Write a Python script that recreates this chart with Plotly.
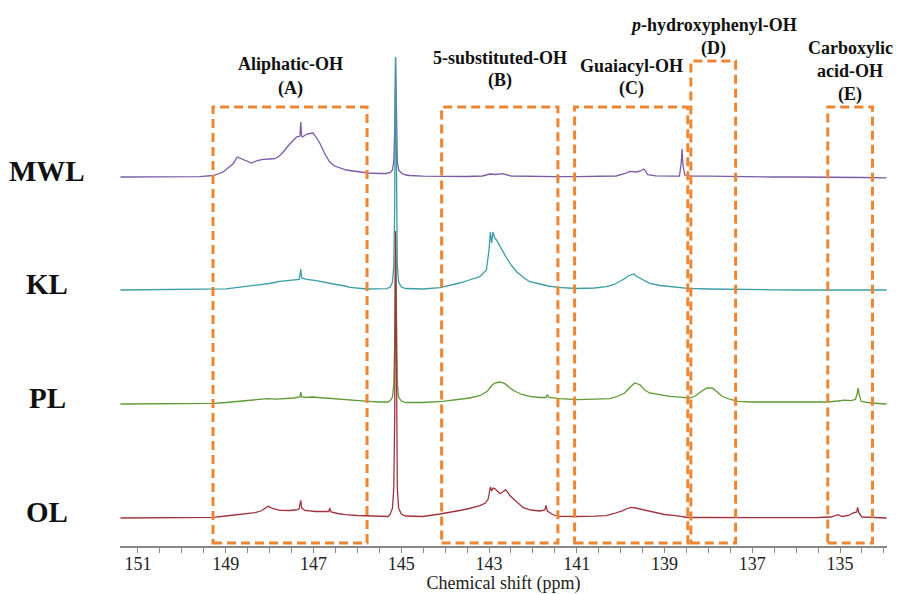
import plotly.graph_objects as go

# ---------------- data ----------------
samples = ["MWL", "KL", "PL", "OL"]

mwl_ppm = [151.40, 150.8, 150.2, 149.6, 149.28, 149.06, 148.95, 148.83, 148.74, 148.64, 148.52, 148.41,
           148.28, 148.15, 148.0, 147.88, 147.78, 147.69, 147.58, 147.46, 147.39, 147.33, 147.31, 147.29,
           147.27, 147.25, 147.16, 147.08, 147.01, 146.93, 146.85, 146.74, 146.63, 146.52, 146.40, 146.25,
           146.10, 145.92, 145.75, 145.5, 145.35, 145.25, 145.2, 145.17, 145.15, 145.13, 145.11, 145.09,
           145.06, 145.0, 144.9, 144.8, 144.5, 144.0, 143.5, 143.15, 142.98, 142.85, 142.69, 142.5, 142.0,
           141.5, 141.0, 140.5, 140.1, 139.9, 139.79, 139.64, 139.55, 139.47, 139.42, 139.38, 139.2, 139.0,
           138.8, 138.66, 138.62, 138.60, 138.58, 138.54, 138.4, 138.0, 137.5, 137.0, 136.5, 136.0, 135.5,
           135.0, 134.5, 133.94]
mwl_int = [0, 0.3, 0, 0.3, 1.5, 5, 9, 13.3, 20, 18.3, 15.5, 14,
           16.5, 17.7, 18, 18.3, 21, 25, 31, 36.7, 40, 40.5, 41, 55,
           41, 40, 42.7, 43.5, 44, 39, 33.3, 23, 15, 11, 9, 7,
           6, 5, 4, 3.5, 3.5, 4.5, 7, 16, 45, 119, 45, 16,
           7, 4, 2, 1.5, 0.8, 0.5, 0.5, 1, 3, 2.5, 3.3, 1, 0.5,
           0.3, 0.3, 0.5, 1, 3.5, 5.7, 5, 6, 8, 5, 2.3, 1.2, 0.8,
           0.8, 1, 14, 28, 12, 2, 0.8, 0.8, 0.3, 0.2, 0, 0, 0,
           -0.3, -0.5, -0.8]

kl_ppm = [151.40, 150.8, 150.2, 149.6, 149.28, 149.0, 148.72, 148.5, 148.3, 148.0, 147.77, 147.6, 147.54,
          147.33, 147.31, 147.29, 147.27, 147.16, 146.93, 146.74, 146.55, 146.28, 146.17, 145.79, 145.5,
          145.33, 145.25, 145.2, 145.17, 145.15, 145.13, 145.11, 145.09, 145.06, 145.0, 144.9, 144.5,
          144.12, 143.9, 143.67, 143.45, 143.21, 143.06, 143.0, 142.97, 142.94, 142.91, 142.87, 142.83,
          142.78, 142.72, 142.6, 142.48, 142.37, 142.2, 142.07, 141.84, 141.65, 141.43, 141.2, 141.0,
          140.6, 140.33, 140.15, 140.02, 139.9, 139.83, 139.76, 139.7, 139.63, 139.56, 139.45, 139.34,
          139.1, 138.81, 138.47, 138.0, 137.5, 137.0, 136.5, 136.0, 135.5, 135.0, 134.5, 133.94]
kl_int = [0, 0.3, 0, 0.3, 0.5, 1.2, 2.7, 3.8, 5, 6.5, 8.7, 9.5, 10,
          10.5, 15, 21, 12, 10.7, 9.3, 8, 6, 4, 2.7, 1, 1,
          1.3, 3, 8, 25, 80, 233, 80, 25, 8, 3, 1.5, 1,
          2.3, 4.5, 7, 10, 13.3, 20, 40, 58, 47, 58, 52, 50,
          46, 41.7, 32, 24, 18.3, 12, 8.3, 6, 4, 2.7, 2, 1.5,
          2, 3.3, 5.5, 8.3, 11.5, 14, 15.5, 16, 13.5, 11.7, 9, 6.7,
          4.5, 3.3, 1.7, 1, 0.5, 0.3, 0.2, 0, 0, 0, 0, 0]

pl_ppm = [151.40, 150.5, 149.6, 149.28, 149.0, 148.68, 148.4, 148.05, 147.85, 147.65, 147.45, 147.31,
          147.29, 147.27, 147.15, 147.03, 146.85, 146.63, 146.4, 146.17, 145.95, 145.75, 145.5, 145.3,
          145.25, 145.2, 145.17, 145.15, 145.13, 145.11, 145.09, 145.06, 145.0, 144.9, 144.5, 144.06,
          143.75, 143.44, 143.2, 143.04, 142.95, 142.87, 142.75, 142.64, 142.52, 142.41, 142.25, 142.07,
          141.85, 141.7, 141.67, 141.63, 141.39, 141.2, 140.99, 140.6, 140.25, 140.05, 139.91, 139.78,
          139.68, 139.56, 139.45, 139.34, 139.1, 138.88, 138.65, 138.43, 138.3, 138.15, 138.03, 137.91,
          137.8, 137.69, 137.5, 137.32, 137.0, 136.83, 136.3, 135.8, 135.3, 135.05, 134.9, 134.75,
          134.65, 134.61, 134.59, 134.56, 134.52, 134.3, 133.94]
pl_int = [0, 0.3, 0.3, 0.7, 1.5, 2.7, 4, 5.3, 4.8, 5.3, 6, 7,
          12, 7, 6.5, 7, 6.3, 6, 5, 4.3, 3.3, 2.7, 2, 2,
          3.5, 7, 20, 60, 170, 60, 20, 7, 3, 1.5, 1.5, 2.7,
          4.3, 6, 8.5, 12.7, 18, 21, 22, 20.3, 16, 12.7, 9.5, 7.7,
          6.5, 6.5, 9.3, 6.5, 5.3, 4.7, 4.3, 4.8, 5.3, 8, 11, 17,
          21, 19.3, 14, 11, 9, 7.7, 6.8, 6, 8, 13, 16, 16,
          12, 7.7, 4.5, 2.7, 2, 2, 2, 2, 2, 3, 3.8, 3.3,
          4.5, 10, 16, 9, 2.7, 1, 0]

ol_ppm = [151.40, 150.5, 149.6, 149.28, 149.0, 148.68, 148.45, 148.33, 148.2, 148.1, 148.03, 147.93,
          147.77, 147.55, 147.40, 147.33, 147.31, 147.29, 147.27, 147.2, 146.95, 146.74, 146.65, 146.63,
          146.60, 146.45, 146.28, 146.0, 145.75, 145.5, 145.3, 145.25, 145.2, 145.17, 145.15, 145.13,
          145.11, 145.09, 145.06, 145.0, 144.9, 144.5, 144.12, 143.9, 143.67, 143.45, 143.21, 143.08,
          143.02, 142.97, 142.94, 142.91, 142.87, 142.81, 142.75, 142.69, 142.62, 142.56, 142.53, 142.41,
          142.3, 142.22, 142.05, 141.84, 141.73, 141.70, 141.67, 141.55, 141.43, 141.2, 141.0, 140.6,
          140.33, 140.15, 139.95, 139.85, 139.76, 139.66, 139.56, 139.4, 139.26, 139.0, 138.75, 138.47,
          138.0, 137.5, 137.0, 136.5, 136.0, 135.5, 135.2, 135.05, 134.95, 134.8, 134.71, 134.62,
          134.60, 134.57, 134.5, 134.2, 133.94]
ol_int = [0, 0.3, 0.3, 0.7, 2, 3.3, 4.5, 5.3, 7, 10, 11.7, 9.5,
          7.7, 7.5, 8, 9, 12, 17.7, 10, 7.7, 6.5, 6, 6.5, 10,
          6, 4.5, 3.3, 2.5, 2, 1.5, 1.5, 4, 10, 30, 100, 287,
          100, 30, 10, 4, 2, 1.5, 4, 5.5, 7.5, 9.5, 12.3, 15,
          19, 31, 27, 30, 29.4, 27, 24.3, 26, 28.3, 25, 22.7, 17.7,
          13.5, 10.3, 8, 7, 8, 12.7, 7, 3.5, 1.7, 1.5, 1.5, 1.8,
          2.3, 4.5, 7.3, 9.5, 10.7, 10, 9, 7, 5.7, 3.5, 2.3, 0.5,
          0.5, 0.3, 0.3, 0.3, 0.3, 0.5, 1, 3.3, 1.5, 2.5, 5, 6,
          10.7, 5, 1, 0.5, 0]

# integration regions (ppm) and their labels
region_lines = [["Aliphatic-OH", "(A)"],
                ["5-substituted-OH", "(B)"],
                ["Guaiacyl-OH", "(C)"],
                ["<i>p</i>-hydroxyphenyl-OH", "(D)"],
                ["Carboxylic", "acid-OH", "(E)"]]
region_from = [149.29, 144.08, 141.05, 138.40, 135.28]
region_to = [145.78, 141.43, 138.47, 137.38, 134.26]

tick_values = [151, 149, 147, 145, 143, 141, 139, 137, 135]

# ---------------- styling / layout ----------------
SERIF = "Liberation Serif, Times New Roman, serif"
colors = ["#7b5ba6", "#3a9ea5", "#5e9a35", "#a0343c"]
offsets = [369, 256, 142, 28]          # vertical stacking of the spectra
box_top = [439, 439, 439, 485, 439]
box_bottom = 3
label_tops = [482, 488, 480, 521, 498]
line_gap = [24, 22, 22, 23, 23]
ORANGE = "#ee8533"

spectra = [(mwl_ppm, mwl_int), (kl_ppm, kl_int), (pl_ppm, pl_int), (ol_ppm, ol_int)]

fig = go.Figure()
for name, (ppm, inten), col, off in zip(samples, spectra, colors, offsets):
    fig.add_trace(go.Scatter(x=ppm, y=[v + off for v in inten], mode="lines", name=name,
                             line=dict(color=col, width=1.3), showlegend=False,
                             hoverinfo="skip"))

for i, (x0, x1) in enumerate(zip(region_from, region_to)):
    fig.add_shape(type="rect", xref="x", yref="y", x0=x0, x1=x1, y0=box_bottom, y1=box_top[i],
                  line=dict(color=ORANGE, width=3, dash="9px,5px"), fillcolor="rgba(0,0,0,0)")
    xc = (x0 + x1) / 2
    for j, txt in enumerate(region_lines[i]):
        fig.add_annotation(x=xc, y=label_tops[i] - j * line_gap[i], xref="x", yref="y",
                           text="<b>" + txt + "</b>", showarrow=False, xanchor="center",
                           yanchor="middle", font=dict(family=SERIF, size=18, color="#111"))

for name, off in zip(samples, offsets):
    fig.add_annotation(x=-0.095, y=off + 6, xref="paper", yref="y", text="<b>" + name + "</b>",
                       showarrow=False, xanchor="center", yanchor="middle",
                       font=dict(family=SERIF, size=29, color="#111"))

fig.update_layout(
    width=897, height=594,
    margin=dict(l=120, r=10, t=0, b=48),
    paper_bgcolor="white", plot_bgcolor="white",
    showlegend=False,
    xaxis=dict(range=[151.41, 133.93], tickvals=tick_values, ticktext=[str(v) for v in tick_values],
               ticks="outside", ticklen=5, tickcolor="#888", tickwidth=1,
               minor=dict(dtick=0.5, tick0=151, ticks="outside", ticklen=5, tickcolor="#888"),
               showline=True, linecolor="#888", linewidth=1.5, showgrid=False, zeroline=False,
               ticklabelstandoff=-4,
               tickfont=dict(family=SERIF, size=18, color="#222"),
               title=dict(text="Chemical shift (ppm)", font=dict(family=SERIF, size=18, color="#222"),
                          standoff=3)),
    yaxis=dict(range=[0, 546], visible=False, showgrid=False, zeroline=False),
)

fig.write_html("out.html", config={"displayModeBar": False},
               post_script="document.body.style.margin='0px';")
